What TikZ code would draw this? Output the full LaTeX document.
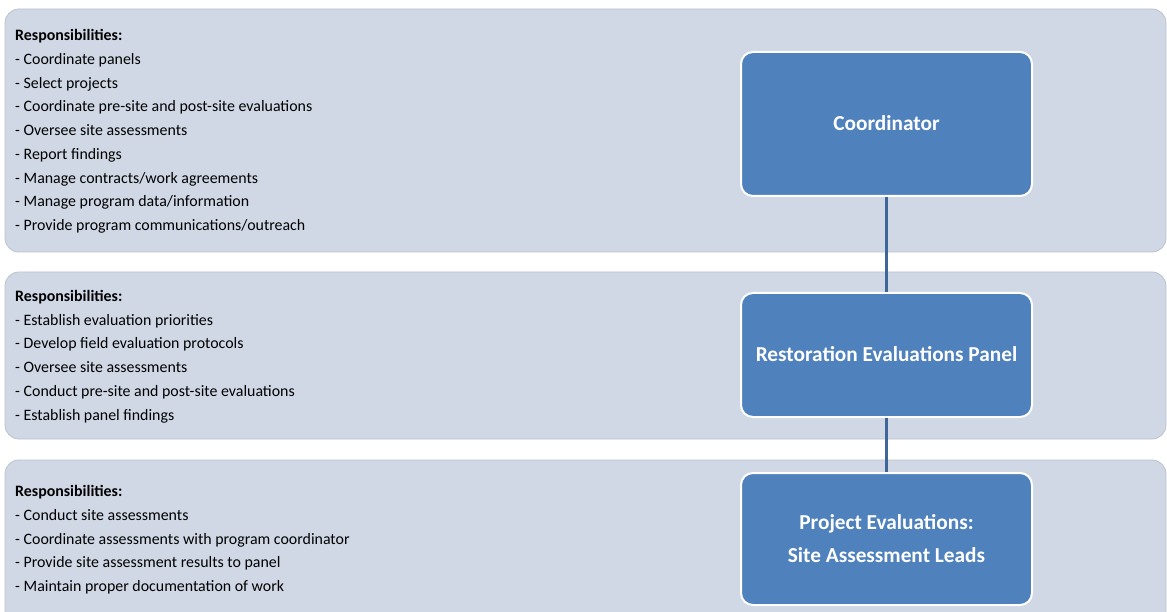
\documentclass[tikz,border=0pt]{standalone}
\usepackage{fontspec}
\setmainfont{Carlito}
\definecolor{bandfill}{HTML}{D0D8E6}
\definecolor{bandedge}{HTML}{BCC2CC}
\definecolor{boxblue}{HTML}{4F81BD}
\definecolor{linkblue}{HTML}{3E6698}
\begin{document}
\begin{tikzpicture}[x=1pt,y=-1pt,
  band/.style={fill=bandfill, draw=bandedge, line width=0.8pt, rounded corners=14pt},
  role/.style={fill=boxblue, draw=white, line width=2pt, rounded corners=12pt,
    minimum width=291pt, text=white, align=center,
    font=\fontsize{21.3}{33}\selectfont\bfseries},
  duties/.style={anchor=base west, align=left, inner sep=0pt,
    font=\fontsize{15.9}{23.7}\selectfont},
  link/.style={draw=linkblue, line width=2.5pt}]
\useasboundingbox (0,0) rectangle (1167,612);
\fill[white] (0,0) rectangle (1167,612);
% bands
\path[band] (5,9) rectangle (1166,252);
\path[band] (5,272) rectangle (1166,439);
\path[band] (5,460) rectangle (1166,640);
% responsibilities (anchored at the baseline of the last line)
\node[duties] (d1) at (15,230.5) {\textbf{Responsibilities:}\\
- Coordinate panels\\
- Select projects\\
- Coordinate pre-site and post-site evaluations\\
- Oversee site assessments\\
- Report findings\\
- Manage contracts/work agreements\\
- Manage program data/information\\
- Provide program communications/outreach};
\node[duties] (d2) at (15,420) {\textbf{Responsibilities:}\\
- Establish evaluation priorities\\
- Develop field evaluation protocols\\
- Oversee site assessments\\
- Conduct pre-site and post-site evaluations\\
- Establish panel findings};
\node[duties] (d3) at (15,591.5) {\textbf{Responsibilities:}\\
- Conduct site assessments\\
- Coordinate assessments with program coordinator\\
- Provide site assessment results to panel\\
- Maintain proper documentation of work};
% role boxes
\node[role, minimum height=144pt] (coord) at (886.5,124) {\raisebox{2pt}{Coordinator}};
\node[role, minimum height=124pt] (panel) at (886.5,355) {\raisebox{1pt}{Restoration Evaluations Panel}};
\node[role, minimum height=132pt] (leads) at (886.5,539) {Project Evaluations:\\Site Assessment Leads};
% connectors
\draw[link] (coord.south) -- (panel.north);
\draw[link] (panel.south) -- (leads.north);
\end{tikzpicture}
\end{document}
